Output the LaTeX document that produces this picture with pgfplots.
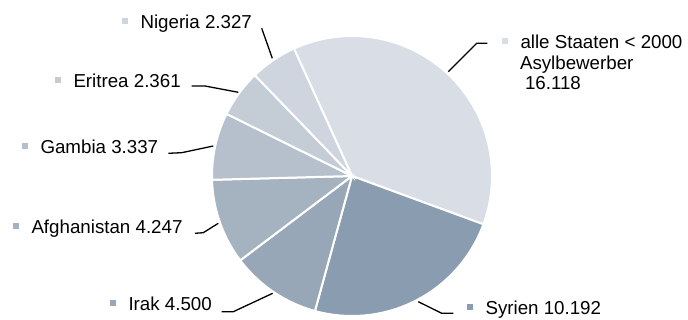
\documentclass[border=0pt]{standalone}
\usepackage{pgfplots}
\pgfplotsset{compat=1.18}
\usepackage{fontspec}
\setmainfont{Liberation Sans}
\definecolor{c1}{HTML}{D9DEE6}
\definecolor{c2}{HTML}{8A9DB0}
\definecolor{c3}{HTML}{97A7B7}
\definecolor{c4}{HTML}{A5B3C1}
\definecolor{c5}{HTML}{B5C0CC}
\definecolor{c6}{HTML}{C4CDD6}
\definecolor{c7}{HTML}{CED5DE}
\newcommand{\lf}{\fontsize{18.8}{22}\selectfont}
\newcommand{\mk}[1]{\textcolor{#1}{\rule[4bp]{6bp}{6bp}}\hspace{12.5bp}}
\tikzset{lab/.style={anchor=base west, inner sep=0pt, outer sep=0pt, text=black, font=\lf}}
\begin{document}
\begin{tikzpicture}
\begin{axis}[
  width=688bp, height=320bp, scale only axis,
  xmin=0, xmax=688, ymin=0, ymax=320,
  hide axis, clip=false,
]
% values in thousands
\xdef\startang{114.5}
\foreach \v/\c in {16.118/c1, 10.192/c2, 4.500/c3, 4.247/c4, 3.337/c5, 2.361/c6, 2.327/c7}{
  \pgfmathsetmacro\a{\startang}
  \pgfmathsetmacro\b{\startang - \v/43.082*360}
  \edef\temp{\noexpand\addplot[fill=\c, draw=white, line width=2bp, domain=\b:\a, samples=80]
    ({352+140*cos(x)},{144+140*sin(x)}) -- (axis cs:352,144) -- cycle;}
  \temp
  \xdef\startang{\b}
}
% leader lines
\addplot[black, line width=1.3bp] coordinates {(261.7,291.7) (272.3,261.7)};
\addplot[black, line width=1.3bp] coordinates {(448.3,248.3) (476.7,276.7) (487.3,276.7)};
\addplot[black, line width=1.3bp] coordinates {(191.7,234) (205,234) (238.3,227.7)};
\addplot[black, line width=1.3bp] coordinates {(168.3,166.7) (181.7,167.3) (213.3,174)};
\addplot[black, line width=1.3bp] coordinates {(195,86.7) (203.3,87.3) (218.3,96.7)};
\addplot[black, line width=1.3bp] coordinates {(221.7,8.3) (233.3,8.3) (272.7,26.7)};
\addplot[black, line width=1.3bp] coordinates {(418.3,18.3) (441.7,6.7) (453.3,6.7)};
% labels
\node[lab] at (axis cs:122,292) {\lf\mk{c7}Nigeria 2.327};
\node[lab] at (axis cs:55,233) {\lf\mk{c6}Eritrea 2.361};
\node[lab] at (axis cs:22,167) {\lf\mk{c5}Gambia 3.337};
\node[lab] at (axis cs:13,87) {\lf\mk{c4}Afghanistan 4.247};
\node[lab] at (axis cs:110,10) {\lf\mk{c3}Irak 4.500};
\node[lab] at (axis cs:467,6) {\lf\mk{c2}Syrien 10.192};
\node[lab] at (axis cs:502,272) {\lf\mk{c1}alle Staaten < 2000};
\node[lab] at (axis cs:520,251) {\lf Asylbewerber};
\node[lab] at (axis cs:525,231) {\lf 16.118};
\end{axis}
\pgfresetboundingbox
\useasboundingbox (0,0) rectangle (688bp,320bp);
\end{tikzpicture}
\end{document}
